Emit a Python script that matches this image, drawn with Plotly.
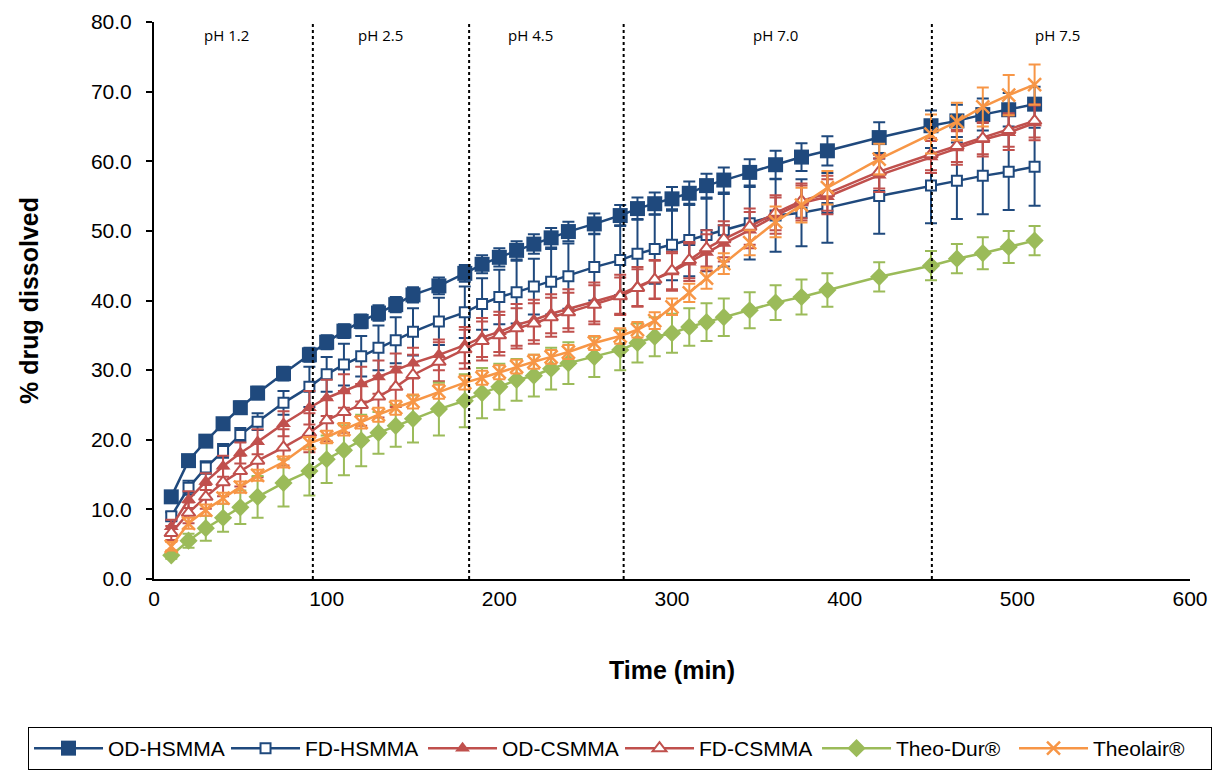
import plotly.graph_objects as go

time_min = [10, 20, 30, 40, 50, 60, 75, 90, 100, 110, 120, 130, 140, 150, 165, 180, 190, 200, 210, 220,
            230, 240, 255, 270, 280, 290, 300, 310, 320, 330, 345, 360, 375, 390, 420, 450, 465, 480, 495, 510]

od_hsmma = [11.8, 17.0, 19.8, 22.3, 24.6, 26.7, 29.5, 32.2, 34.0, 35.6, 37.0, 38.2, 39.4, 40.8, 42.1, 43.9, 45.2, 46.2, 47.2, 48.1,
            49.0, 49.9, 51.0, 52.2, 53.2, 53.9, 54.6, 55.4, 56.5, 57.3, 58.4, 59.5, 60.6, 61.5, 63.4, 65.1, 65.8, 66.7, 67.4, 68.2]
od_hsmma_sd = [0.5, 0.7, 0.8, 0.8, 0.9, 0.9, 1.0, 1.0, 1.0, 1.0, 1.0, 1.1, 1.1, 1.1, 1.2, 1.2, 1.3, 1.3, 1.3, 1.4,
               1.4, 1.4, 1.5, 1.5, 1.6, 1.6, 1.7, 1.7, 1.7, 1.8, 1.9, 2.0, 2.0, 2.1, 2.2, 2.2, 2.3, 2.3, 2.4, 2.5]

fd_hsmma = [9.0, 13.1, 16.0, 18.4, 20.7, 22.6, 25.3, 27.6, 29.4, 30.8, 32.0, 33.2, 34.3, 35.5, 37.0, 38.3, 39.5, 40.5, 41.2, 42.0,
            42.7, 43.5, 44.8, 45.8, 46.7, 47.4, 48.0, 48.7, 49.4, 50.1, 51.1, 52.2, 52.6, 53.3, 55.0, 56.5, 57.2, 57.9, 58.5, 59.2]
fd_hsmma_sd = [0.6, 1.0, 0.9, 1.0, 1.0, 1.2, 1.7, 2.9, 2.5, 3.0, 2.9, 3.2, 3.3, 3.4, 3.4, 3.7, 3.7, 3.9, 4.5, 4.0,
               4.7, 4.7, 4.8, 5.0, 5.0, 5.0, 5.1, 5.2, 5.2, 5.2, 5.2, 5.2, 4.8, 5.0, 5.4, 5.4, 5.5, 5.5, 5.5, 5.6]

od_csmma = [7.5, 11.4, 14.0, 16.2, 18.1, 19.7, 22.3, 24.6, 26.0, 27.0, 28.0, 29.0, 30.0, 31.0, 32.2, 33.6, 34.7, 35.5, 36.5, 37.2,
            38.1, 38.8, 39.8, 40.9, 42.0, 43.0, 44.1, 45.5, 46.9, 48.2, 50.1, 52.2, 54.0, 54.9, 58.0, 60.6, 61.9, 63.1, 64.1, 65.5]
od_csmma_sd = [1.0, 1.2, 1.2, 1.5, 1.5, 1.8, 1.8, 2.4, 2.6, 2.4, 2.5, 2.4, 2.4, 2.2, 2.2, 2.6, 2.8, 2.9, 3.0, 2.9,
               2.8, 2.8, 2.8, 2.8, 2.8, 2.8, 2.7, 2.7, 2.6, 2.6, 2.6, 2.6, 2.5, 2.5, 2.4, 2.3, 2.4, 2.4, 2.5, 2.5]

fd_csmma = [6.6, 9.5, 11.8, 13.9, 15.5, 17.0, 18.9, 21.0, 22.8, 24.0, 25.0, 26.2, 27.6, 29.3, 31.2, 33.0, 34.2, 35.0, 36.0, 36.7,
            37.6, 38.3, 39.4, 40.6, 41.8, 43.0, 44.3, 45.8, 47.5, 48.8, 50.6, 52.6, 54.3, 55.4, 58.5, 61.0, 62.2, 63.3, 64.5, 65.8]
fd_csmma_sd = [1.0, 1.5, 1.7, 2.0, 2.2, 2.4, 2.6, 2.8, 3.0, 3.0, 3.0, 3.0, 2.9, 2.9, 2.8, 2.8, 2.8, 2.9, 2.9, 2.9,
               2.8, 2.8, 2.8, 2.7, 2.7, 2.7, 2.7, 2.6, 2.6, 2.6, 2.6, 2.5, 2.5, 2.5, 2.4, 2.3, 2.3, 2.3, 2.4, 2.4]

theo_dur = [3.4, 5.5, 7.3, 8.8, 10.3, 11.8, 13.8, 15.5, 17.2, 18.5, 19.9, 21.0, 22.0, 23.0, 24.4, 25.6, 26.7, 27.6, 28.6, 29.2,
            30.2, 31.0, 31.9, 32.9, 33.9, 34.8, 35.3, 36.2, 36.9, 37.6, 38.6, 39.7, 40.5, 41.5, 43.4, 45.0, 46.0, 46.8, 47.7, 48.6]
theo_dur_sd = [0.5, 1.0, 1.8, 2.0, 2.4, 3.0, 3.4, 3.5, 3.4, 3.6, 3.7, 3.0, 3.0, 3.4, 3.8, 3.8, 3.6, 3.3, 3.0, 3.0,
               3.0, 3.0, 2.9, 2.9, 2.8, 2.8, 2.8, 2.7, 2.7, 2.7, 2.6, 2.5, 2.5, 2.4, 2.1, 2.1, 2.1, 2.3, 2.3, 2.1]

theolair = [4.7, 8.0, 9.9, 11.6, 13.2, 14.9, 16.8, 19.5, 20.4, 21.5, 22.5, 23.6, 24.6, 25.5, 26.9, 28.2, 28.9, 29.7, 30.5, 31.2,
            31.9, 32.6, 33.9, 34.9, 35.8, 37.1, 39.1, 41.1, 43.2, 45.3, 48.3, 51.3, 53.7, 56.2, 60.3, 63.9, 65.7, 67.8, 69.5, 71.0]
theolair_sd = [0.6, 0.8, 0.8, 0.8, 0.8, 0.8, 0.8, 0.9, 0.9, 0.9, 0.9, 1.0, 1.0, 1.0, 1.0, 1.0, 1.0, 1.0, 1.0, 1.0,
               1.0, 1.0, 1.0, 1.1, 1.1, 1.2, 1.2, 1.3, 1.5, 1.5, 1.8, 2.2, 2.5, 2.4, 2.2, 2.8, 2.7, 2.8, 2.9, 2.9]

x_ticks = [0, 100, 200, 300, 400, 500, 600]
y_ticks = [0, 10, 20, 30, 40, 50, 60, 70, 80]

phase_boundaries = [92, 182.5, 272, 450.5]
ph_labels = ["pH 1.2", "pH 2.5", "pH 4.5", "pH 7.0", "pH 7.5"]
ph_label_x = [42, 131, 218, 360, 523]
ph_label_y = 78.2

NAVY = "#1F497D"
RED = "#C0504D"
GREEN = "#9BBB59"
ORANGE = "#F79646"

series = [
    ("OD-HSMMA", od_hsmma, od_hsmma_sd, NAVY, dict(symbol="square", size=15, color=NAVY, line=dict(width=0))),
    ("FD-HSMMA", fd_hsmma, fd_hsmma_sd, NAVY, dict(symbol="square", size=10, color="white", line=dict(width=2, color=NAVY))),
    ("OD-CSMMA", od_csmma, od_csmma_sd, RED, dict(symbol="triangle-up", size=13, color=RED, line=dict(width=0))),
    ("FD-CSMMA", fd_csmma, fd_csmma_sd, RED, dict(symbol="triangle-up", size=12, color="white", line=dict(width=2, color=RED))),
    ("Theo-Dur®", theo_dur, theo_dur_sd, GREEN, dict(symbol="diamond", size=14, color=GREEN, line=dict(width=0))),
    ("Theolair®", theolair, theolair_sd, ORANGE, dict(symbol="x-thin-open", size=13, color=ORANGE, line=dict(width=2.5, color=ORANGE))),
]

fig = go.Figure()
for name, vals, sd, col, mk in series:
    fig.add_trace(go.Scatter(
        x=time_min, y=vals, name=name, mode="lines+markers",
        line=dict(color=col, width=2.5),
        marker=mk,
        error_y=dict(type="data", array=sd, visible=True, color=col, thickness=2, width=6),
    ))

for xb in phase_boundaries:
    fig.add_shape(type="line", x0=xb, x1=xb, y0=0, y1=80, xref="x", yref="y",
                  line=dict(color="black", width=2, dash="dot"))

for lab, lx in zip(ph_labels, ph_label_x):
    fig.add_annotation(x=lx, y=ph_label_y, text=lab, showarrow=False, xref="x", yref="y",
                       font=dict(family="Open Sans, sans-serif", size=15, color="black"))

fig.update_layout(
    width=1217, height=771,
    margin=dict(l=154, r=27, t=22, b=192, autoexpand=False),
    paper_bgcolor="white", plot_bgcolor="white",
    font=dict(family="Liberation Sans, Arial, sans-serif", color="black"),
    showlegend=True,
    legend=dict(orientation="h", x=-0.1216, xanchor="left", y=-0.2657, yanchor="top",
                bordercolor="black", borderwidth=1, bgcolor="white",
                font=dict(size=21, family="Liberation Sans, Arial, sans-serif", color="black"),
                itemwidth=69, entrywidth=113, entrywidthmode="pixels", traceorder="normal"),
    xaxis=dict(range=[0, 600], tickvals=x_ticks, showgrid=False, zeroline=False,
               showline=True, linecolor="black", linewidth=2, ticks="",
               tickfont=dict(size=21),
               title=dict(text="<b>Time (min)</b>", font=dict(size=25), standoff=52)),
    xaxis2=dict(range=[0, 600], tickvals=x_ticks, overlaying="x", anchor="y", side="bottom",
                showgrid=False, zeroline=False, showline=False, showticklabels=False,
                ticks="outside", ticklen=6, tickwidth=2, tickcolor="black"),
    yaxis=dict(range=[0, 80], tickvals=y_ticks, tickformat=".1f", showgrid=False,
               zeroline=False, showline=True, linecolor="black", linewidth=2, ticks="outside", ticklen=6,
               tickwidth=2, tickcolor="black", tickfont=dict(size=21), ticklabelstandoff=10,
               title=dict(text="<b>% drug dissolved</b>", font=dict(size=25), standoff=45)),
)

fig.write_html("out.html")
